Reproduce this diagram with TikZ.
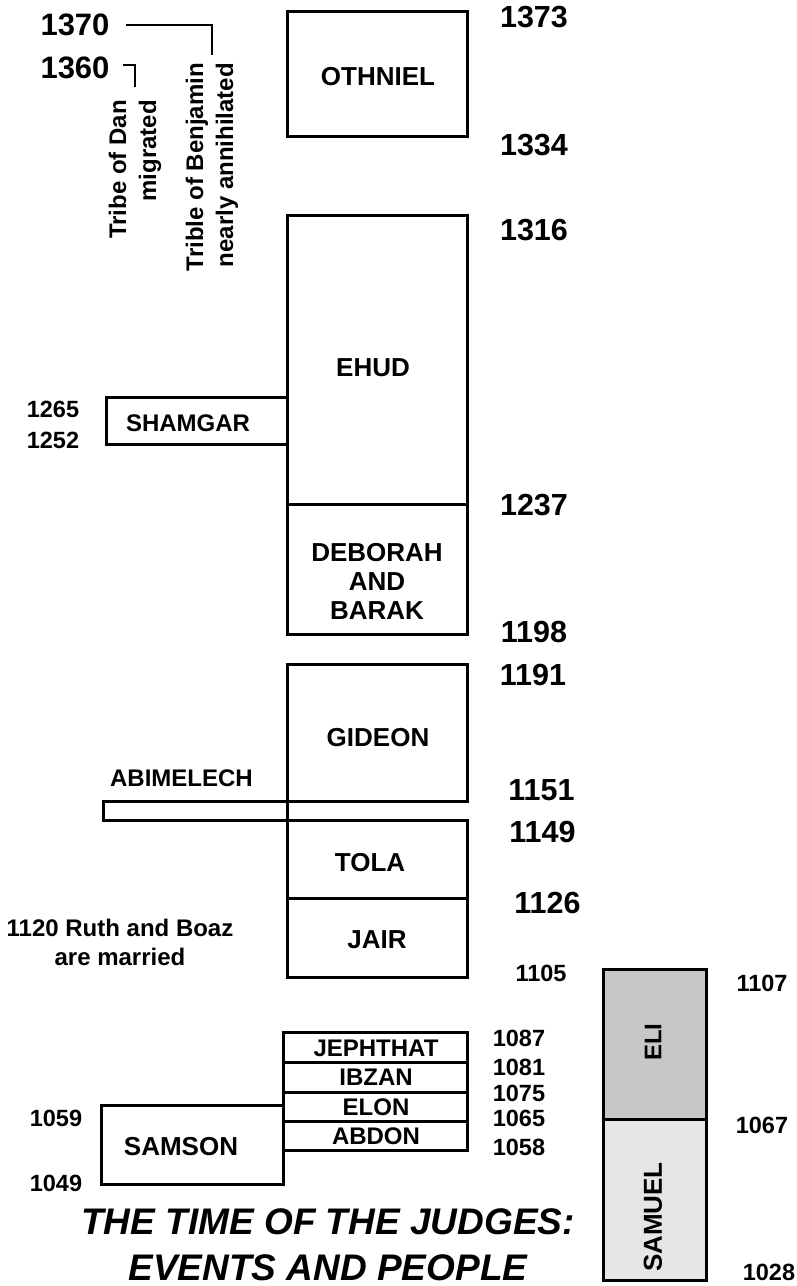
\documentclass[tikz,border=0pt]{standalone}
\usepackage{fontspec}
\setmainfont{Liberation Sans}
\usepackage{tikz}
\usetikzlibrary{positioning}
\tikzset{
  judge/.style={rectangle,draw=black,line width=3pt,inner sep=0pt,outer sep=0pt,minimum width=180pt},
  elibox/.style={judge,fill=black!22,minimum width=103pt},
  samuelbox/.style={judge,fill=black!10,minimum width=103pt},
  jname/.style={font=\fontsize{26}{29}\selectfont\bfseries,align=center,inner sep=0pt},
  jsmall/.style={font=\fontsize{24}{29}\selectfont\bfseries,align=center,inner sep=0pt},
  yrbig/.style={font=\fontsize{31}{36}\selectfont\bfseries,inner sep=0pt},
  yrmid/.style={font=\fontsize{30.5}{36}\selectfont\bfseries,inner sep=0pt},
  yrsm/.style={font=\fontsize{23.5}{28}\selectfont\bfseries,inner sep=0pt},
  note/.style={font=\fontsize{24}{30}\selectfont\bfseries,rotate=90,anchor=east,align=right,inner sep=0pt},
  tick/.style={line width=2.2pt,black},
  ttl/.style={font=\fontsize{37}{46}\selectfont\bfseries\itshape,align=center,inner sep=0pt}
}

\begin{document}
\begin{tikzpicture}[x=1pt,y=-1pt]
  \useasboundingbox (0,0) rectangle (797,1286);

  % main column
  \node[judge,minimum height=125pt] (othniel) at (377,73.5) {};
  \node[judge,minimum height=289pt] (ehud) at (377,359.5) {};
  \node[judge,minimum height=130pt,below=0pt of ehud] (deborah) {};
  \node[judge,minimum height=137pt] (gideon) at (377,732.5) {};
  \node[judge,minimum height=78pt] (tola) at (377,859) {};
  \node[judge,minimum height=79pt,below=0pt of tola] (jair) {};
  \node[judge,minimum width=181pt,minimum height=47pt] (shamgar) at (196.5,420.5) {};
  \node[judge,minimum width=184pt,minimum height=19pt] (abimelech) at (195,810.5) {};

  \node[jname] (othnieltxt) at (378,77) {OTHNIEL};
  \node[jname] (ehudtxt) at (373,368) {EHUD};
  \node[jname] (deborahtxt) at (377,581) {DEBORAH\\AND\\BARAK};
  \node[jname] (gideontxt) at (378,738) {GIDEON};
  \node[jname] (tolatxt) at (370,863) {TOLA};
  \node[jname] (jairtxt) at (377,940) {JAIR};
  \node[jsmall] (shamgartxt) at (188,423) {SHAMGAR};
  \node[jsmall] (abimelechtxt) at (181.5,778) {ABIMELECH};

  % minor judges and Samson
  \node[judge,minimum width=184pt,minimum height=30pt] (jephthat) at (375,1047) {};
  \node[judge,minimum width=184pt,minimum height=30pt,below=0pt of jephthat] (ibzan) {};
  \node[judge,minimum width=184pt,minimum height=29pt,below=0pt of ibzan] (elon) {};
  \node[judge,minimum width=184pt,minimum height=29pt,below=0pt of elon] (abdon) {};
  \node[judge,minimum width=182pt,minimum height=79pt] (samson) at (192,1144.5) {};

  \node[jsmall] (jephthattxt) at (376,1048) {JEPHTHAT};
  \node[jsmall] (ibzantxt) at (376,1077) {IBZAN};
  \node[jsmall] (elontxt) at (376,1107) {ELON};
  \node[jsmall] (abdontxt) at (376,1136) {ABDON};
  \node[jname] (samsontxt) at (181,1147) {SAMSON};

  % priests
  \node[elibox,minimum height=150pt] (eli) at (654.5,1044) {};
  \node[samuelbox,minimum height=161pt,below=0pt of eli] (samuel) {};
  \node[jsmall,rotate=90] (elitxt) at (653,1042) {ELI};
  \node[jname,rotate=90] (samueltxt) at (653,1217) {SAMUEL};

  % years
  \node[yrbig] (y1370) at (75,25) {1370};
  \node[yrbig] (y1360) at (75,68) {1360};
  \node[yrmid] (y1373) at (534,17) {1373};
  \node[yrmid] (y1334) at (534,145) {1334};
  \node[yrmid] (y1316) at (534,230) {1316};
  \node[yrmid] (y1237) at (534,505) {1237};
  \node[yrmid] (y1198) at (534,632) {1198};
  \node[yrmid] (y1191) at (533,675) {1191};
  \node[yrmid] (y1151) at (541.5,790) {1151};
  \node[yrmid] (y1149) at (542.5,832) {1149};
  \node[yrmid] (y1126) at (547.5,903) {1126};
  \node[yrsm] (y1105) at (541,973) {1105};
  \node[yrsm] (y1265) at (53,409) {1265};
  \node[yrsm] (y1252) at (53,440) {1252};
  \node[yrsm] (y1087) at (519,1038) {1087};
  \node[yrsm] (y1081) at (519,1067) {1081};
  \node[yrsm] (y1075) at (519,1093) {1075};
  \node[yrsm] (y1065) at (519,1118) {1065};
  \node[yrsm] (y1058) at (519,1147) {1058};
  \node[yrsm] (y1059) at (56,1118) {1059};
  \node[yrsm] (y1049) at (56,1183) {1049};
  \node[yrsm] (y1107) at (762,983) {1107};
  \node[yrsm] (y1067) at (762,1125) {1067};
  \node[yrsm] (y1028) at (769,1272) {1028};

  % events
  \node[note] (dan) at (135,100) {Tribe of Dan\\migrated};
  \node[note] (benj) at (212,63) {Trible of Benjamin\\nearly annihilated};
  \draw[tick,shorten <=16pt,shorten >=8pt] (y1370.east) -| (benj.east);
  \draw[tick,shorten <=13pt,shorten >=13pt] ([yshift=3pt]y1360.east) -| (dan.east);
  \node[jsmall] (ruth) at (120,942.5) {1120 Ruth and Boaz\\are married};

  \node[ttl] (title) at (328,1245) {THE TIME OF THE JUDGES:\\EVENTS AND PEOPLE};
\end{tikzpicture}
\end{document}
